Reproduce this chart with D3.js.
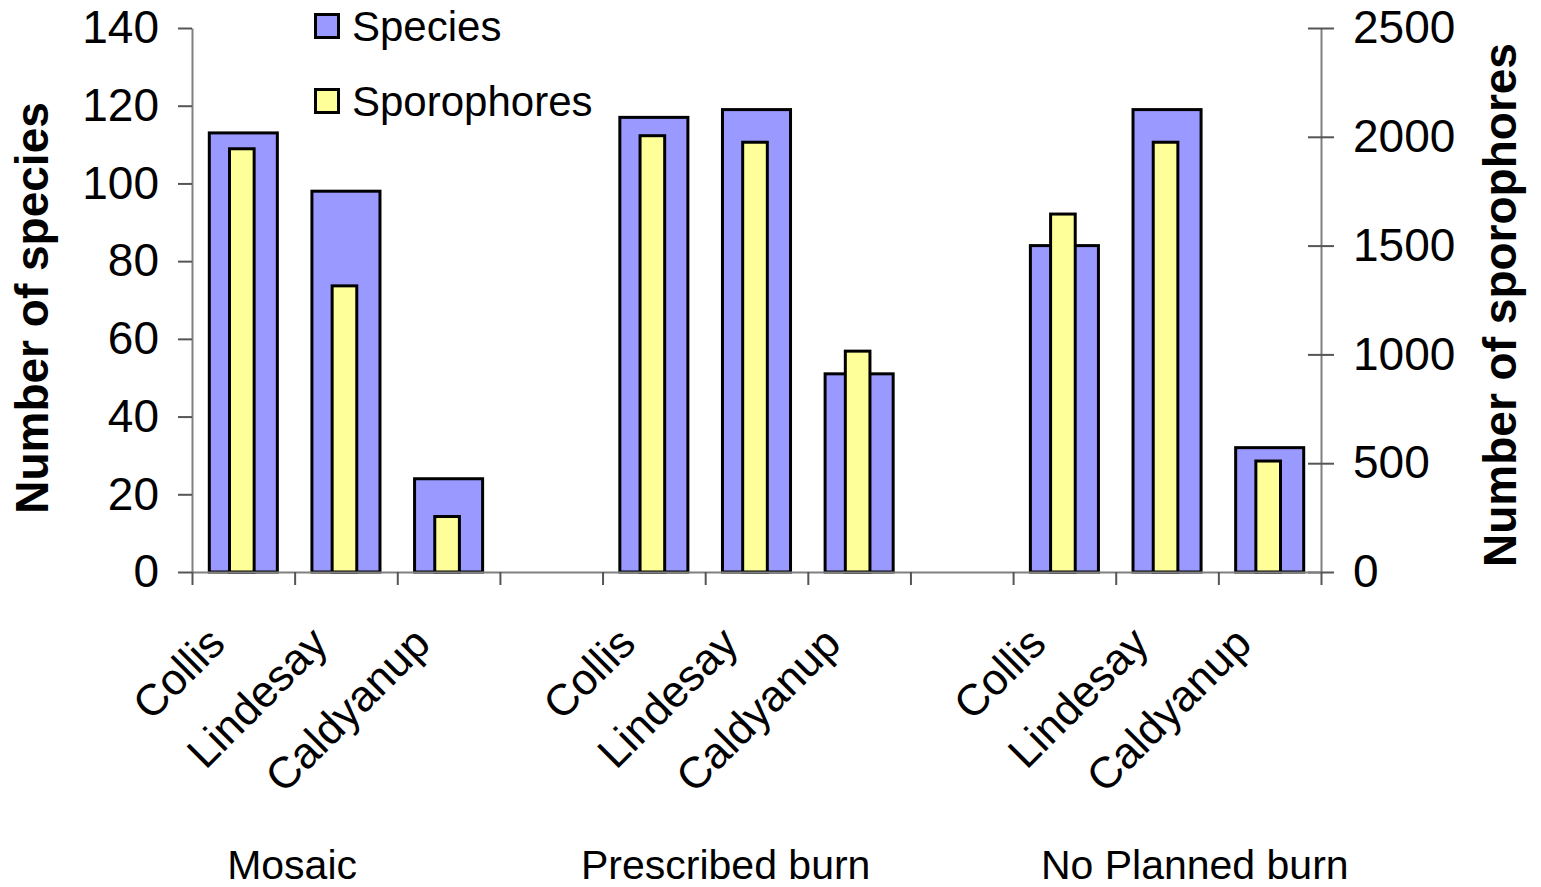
<!DOCTYPE html>
<html>
<head>
<meta charset="utf-8">
<script src="https://cdn.jsdelivr.net/npm/d3@7"></script>
<style>
  body { margin: 0; background: #fff; }
  text { font-family: "Liberation Sans", Arial, sans-serif; fill: #000; }
</style>
</head>
<body>
<script>
// data
var groups = ["Mosaic", "Prescribed burn", "No Planned burn"];
var sites = ["Collis", "Lindesay", "Caldyanup"];
var species = [113, 98, 24, 117, 119, 51, 84, 119, 32];
var sporophores = [1945, 1315, 255, 2005, 1975, 1015, 1645, 1975, 510];
var speciesTicks = [0, 20, 40, 60, 80, 100, 120, 140];
var sporoTicks = [0, 500, 1000, 1500, 2000, 2500];

var W = 1541, H = 887;
var plotLeft = 192, plotRight = 1321, plotTop = 28, plotBottom = 572;

var svg = d3.select("body").append("svg").attr("width", W).attr("height", H);

// 11 slots: 3 sites per group + 1 empty slot between groups
var slot = function(i){ return Math.floor(i / 3) * 4 + i % 3; };
var x = d3.scaleBand().domain(d3.range(11)).range([plotLeft, plotRight]).padding(0);
var xb = d3.scaleLinear().domain([0, 11]).range([plotLeft, plotRight]);
var yL = d3.scaleLinear().domain([0, 140]).range([plotBottom, plotTop]);
var yR = d3.scaleLinear().domain([0, 2500]).range([plotBottom, plotTop]);

var bw = x.bandwidth();
var spW = bw * 0.663, soW = bw * 0.24;

// species bars
svg.selectAll("rect.species")
  .data(species)
  .enter().append("rect")
    .attr("class", "species")
    .attr("x", function(d, i){ return x(slot(i)) + (bw - spW) / 2; })
    .attr("y", function(d){ return yL(d); })
    .attr("width", spW)
    .attr("height", function(d){ return plotBottom - yL(d); })
    .attr("fill", "#9999ff")
    .attr("stroke", "#000")
    .attr("stroke-width", 3);

// sporophore bars
svg.selectAll("rect.sporo")
  .data(sporophores)
  .enter().append("rect")
    .attr("class", "sporo")
    .attr("x", function(d, i){ return x(slot(i)) + (bw - soW) / 2 - 1.5; })
    .attr("y", function(d){ return yR(d); })
    .attr("width", soW)
    .attr("height", function(d){ return plotBottom - yR(d); })
    .attr("fill", "#ffff99")
    .attr("stroke", "#000")
    .attr("stroke-width", 3);

// left axis
var gL = svg.append("g").attr("transform", "translate(" + plotLeft + ",0)")
  .call(d3.axisLeft(yL).tickValues(speciesTicks).tickSize(14).tickSizeOuter(0).tickPadding(19));
// right axis, ticks cross the line
var gR = svg.append("g").attr("transform", "translate(" + plotRight + ",0)")
  .call(d3.axisRight(yR).tickValues(sporoTicks).tickFormat(d3.format("d"))
    .tickSize(13).tickSizeOuter(0).tickPadding(19));
gR.selectAll(".tick line").attr("x1", -13);
// category axis
var gX = svg.append("g").attr("transform", "translate(0," + plotBottom + ")")
  .call(d3.axisBottom(xb).tickValues(d3.range(12)).tickSize(13).tickSizeOuter(0).tickFormat(""));

[gL, gR, gX].forEach(function(g){
  g.select(".domain").attr("stroke", "#808080").attr("stroke-width", 2);
  g.selectAll(".tick line").attr("stroke", "#555").attr("stroke-width", 2);
  g.selectAll(".tick text").attr("font-size", 46).attr("font-family", "Liberation Sans, Arial, sans-serif").attr("fill", "#000");
});

// site labels, rotated
var siteLabels = d3.range(9).map(function(i){ return sites[i % 3]; });
svg.selectAll("text.site")
  .data(siteLabels)
  .enter().append("text")
    .attr("class", "site")
    .attr("font-size", 44)
    .attr("text-anchor", "end")
    .attr("transform", function(d, i){
      return "translate(" + (x(slot(i)) + bw / 2 - 16) + ",646) rotate(-45)";
    })
    .text(function(d){ return d; });

// group labels (placed in slot units along the category axis)
var groupPos = [0.975, 5.2, 9.77];
svg.selectAll("text.group")
  .data(groups)
  .enter().append("text")
    .attr("class", "group")
    .attr("font-size", 41)
    .attr("text-anchor", "middle")
    .attr("x", function(d, i){ return xb(groupPos[i]); })
    .attr("y", 879)
    .text(function(d){ return d; });

// axis titles
svg.append("text")
  .attr("transform", "translate(48," + ((plotTop + plotBottom) / 2 + 8) + ") rotate(-90)")
  .attr("text-anchor", "middle")
  .attr("font-size", 46)
  .attr("font-weight", "bold")
  .text("Number of species");
svg.append("text")
  .attr("transform", "translate(1516," + ((plotTop + plotBottom) / 2 + 5) + ") rotate(-90)")
  .attr("text-anchor", "middle")
  .attr("font-size", 46)
  .attr("font-weight", "bold")
  .text("Number of sporophores");

// legend
var legend = [{name: "Species", fill: "#9999ff"}, {name: "Sporophores", fill: "#ffff99"}];
var lg = svg.selectAll("g.legend")
  .data(legend)
  .enter().append("g")
    .attr("class", "legend")
    .attr("transform", function(d, i){ return "translate(314," + (13 + i * 75) + ")"; });
lg.append("rect")
  .attr("x", 1.5).attr("y", 1.5)
  .attr("width", 23).attr("height", 23)
  .attr("fill", function(d){ return d.fill; })
  .attr("stroke", "#000")
  .attr("stroke-width", 3);
lg.append("text")
  .attr("x", 38)
  .attr("y", 28)
  .attr("font-size", 42)
  .text(function(d){ return d.name; });
</script>
</body>
</html>
